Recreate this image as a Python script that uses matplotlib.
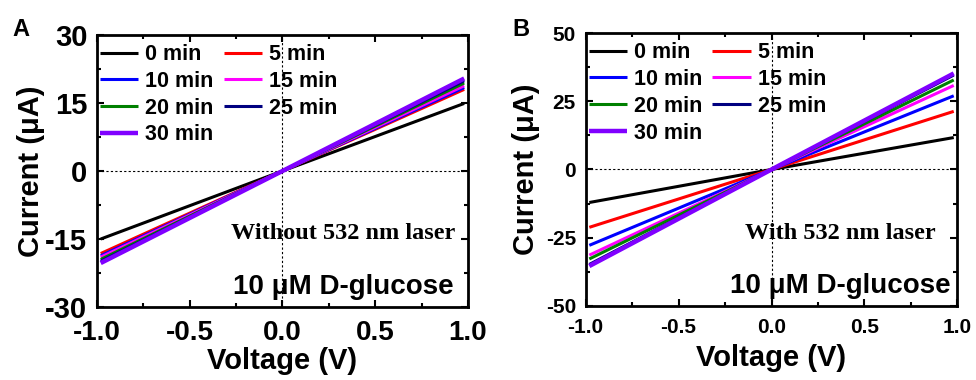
import numpy as np
import matplotlib
matplotlib.use('Agg')
import matplotlib.pyplot as plt
from matplotlib.ticker import MultipleLocator

plt.rcParams['font.family'] = ['Liberation Sans', 'DejaVu Sans']
plt.rcParams['font.weight'] = 'bold'
plt.rcParams['axes.unicode_minus'] = False

# I-V sweeps, currents read at the sweep ends and at 0 V
voltage = [-0.98, 0.0, 0.98]
labels = ['0 min', '5 min', '10 min', '15 min', '20 min', '25 min', '30 min']
colors = ['#000000', '#ff0000', '#0000ff', '#ff00ff', '#008000', '#000080', '#8000ff']
widths = [2.2, 2.2, 2.2, 2.2, 2.2, 2.2, 3.2]

# without laser
current_a = [
    [-15.0, 0.0, 14.9],
    [-18.2, 0.0, 18.0],
    [-18.7, 0.0, 18.4],
    [-19.0, 0.0, 18.8],
    [-19.5, 0.0, 19.4],
    [-19.9, 0.0, 19.9],
    [-20.3, 0.0, 20.4],
]
# with laser
current_b = [
    [-12.1, 0.0, 11.7],
    [-21.2, 0.0, 21.3],
    [-27.8, 0.0, 27.0],
    [-31.4, 0.0, 30.8],
    [-32.8, 0.0, 32.8],
    [-34.8, 0.0, 34.6],
    [-35.4, 0.0, 35.2],
]

fig = plt.figure(figsize=(9.76, 3.8), dpi=100)
ax_a = fig.add_axes([0.0994, 0.192, 0.380, 0.716])
ax_b = fig.add_axes([0.600, 0.195, 0.381, 0.718])


def setup(ax, data, ylim, ystep, note, note_xy, tick_fs, pads):
    lines = []
    for i, cur in enumerate(data):
        ln, = ax.plot(voltage, cur, color=colors[i], lw=widths[i], label=labels[i],
                      solid_capstyle='butt')
        lines.append(ln)
    ax.axhline(0, color='k', ls=(0, (2, 2)), lw=0.8, zorder=0)
    ax.axvline(0, color='k', ls=(0, (2, 2)), lw=0.8, zorder=0)
    ax.set_xlim(-1, 1)
    ax.set_ylim(-ylim, ylim)
    ax.xaxis.set_major_locator(MultipleLocator(0.5))
    ax.xaxis.set_minor_locator(MultipleLocator(0.25))
    ax.yaxis.set_major_locator(MultipleLocator(ystep))
    ax.yaxis.set_minor_locator(MultipleLocator(ystep / 2))
    ax.tick_params(which='both', direction='in', top=True, right=True, width=1.5)
    ax.tick_params(which='major', length=5)
    ax.tick_params(which='minor', length=3)
    ax.tick_params(axis='x', labelsize=tick_fs[0], pad=9)
    ax.tick_params(axis='y', labelsize=tick_fs[1], pad=7)
    ax.tick_params(which='both', labeltop=False, labelright=False)
    for s in ax.spines.values():
        s.set_linewidth(2)
    ax.set_xlabel('Voltage (V)', fontsize=21, fontweight='bold', labelpad=pads[0])
    ax.set_ylabel('Current (\u03bcA)', fontsize=21, fontweight='bold', labelpad=pads[1])
    # fill the legend row by row: 0, 5 / 10, 15 / 20, 25 / 30
    order = [0, 2, 4, 6, 1, 3, 5]
    ax.legend([lines[k] for k in order], [labels[k] for k in order],
              loc='upper left', bbox_to_anchor=(-0.032, 1.022), ncol=2, frameon=False,
              fontsize=15.5, handlelength=1.77, handletextpad=0.33,
              columnspacing=0.47, labelspacing=0.27, borderaxespad=0.3)
    ax.text(note_xy[0], note_xy[1], note, transform=ax.transAxes, ha='center',
            va='center', fontsize=17.5, family='Liberation Serif', weight='bold')
    ax.text(note_xy[0], 0.072, '10 \u03bcM D-glucose', transform=ax.transAxes,
            ha='center', va='center', fontsize=20, weight='bold')


setup(ax_a, current_a, 30, 15, 'Without 532 nm laser', (0.663, 0.272), (20, 21), (1, 0))
setup(ax_b, current_b, 50, 25, 'With 532 nm laser', (0.686, 0.267), (15, 15), (5, 4))

fig.text(0.013, 0.905, 'A', fontsize=17, weight='bold')
fig.text(0.525, 0.905, 'B', fontsize=17, weight='bold')

fig.savefig('out.png', dpi=100)
